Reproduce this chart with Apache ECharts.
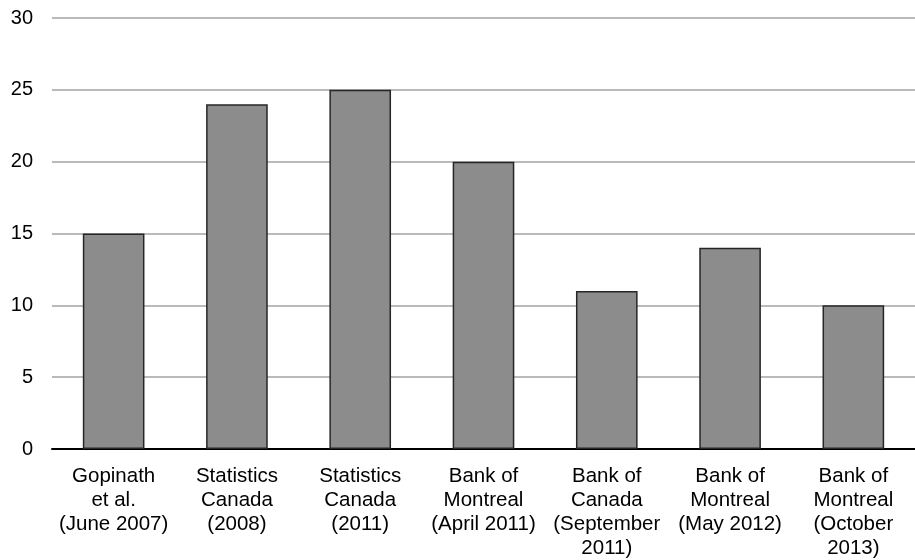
<!DOCTYPE html>
<html>
<head>
<meta charset="utf-8">
<script src="https://cdn.jsdelivr.net/npm/echarts@6/dist/echarts.min.js"></script>
<style>
  html, body { margin: 0; padding: 0; background: #fff; overflow: hidden; }
  #chart { width: 915px; height: 560px; }
</style>
</head>
<body>
<div id="chart"></div>
<script>
// Estimates by source, one bar each
const categories = [
  'Gopinath\net al.\n(June 2007)',
  'Statistics\nCanada\n(2008)',
  'Statistics\nCanada\n(2011)',
  'Bank of\nMontreal\n(April 2011)',
  'Bank of\nCanada\n(September\n2011)',
  'Bank of\nMontreal\n(May 2012)',
  'Bank of\nMontreal\n(October\n2013)'
];
const values = [15, 24, 25, 20, 11, 14, 10];
const yTicks = { min: 0, max: 30, interval: 5 };

const chart = echarts.init(document.getElementById('chart'), null, { renderer: 'canvas' });
chart.setOption({
  animation: false,
  textStyle: { fontFamily: 'Liberation Sans, Arial, sans-serif' },
  // the plot runs right up to (and slightly past) the right edge
  grid: { left: 52, right: -4, top: 18, bottom: 111, containLabel: false },
  xAxis: {
    type: 'category',
    data: categories,
    axisLine: { show: true, lineStyle: { color: '#000', width: 2 } },
    axisTick: { show: false },
    axisLabel: {
      interval: 0,
      color: '#000',
      fontSize: 20.5,
      lineHeight: 24,
      margin: 15,
      fontFamily: 'Liberation Sans, Arial, sans-serif'
    }
  },
  yAxis: {
    type: 'value',
    min: yTicks.min,
    max: yTicks.max,
    interval: yTicks.interval,
    axisLine: { show: false },
    axisTick: { show: false },
    axisLabel: {
      color: '#000',
      fontSize: 20,
      margin: 19,
      fontFamily: 'Liberation Sans, Arial, sans-serif'
    },
    splitLine: { show: true, lineStyle: { color: '#a3a3a3', width: 1.5 } }
  },
  series: [{
    type: 'bar',
    data: values,
    barWidth: '50%',
    itemStyle: { color: '#8c8c8c', borderColor: '#262626', borderWidth: 1.5 }
  }]
});
</script>
</body>
</html>
